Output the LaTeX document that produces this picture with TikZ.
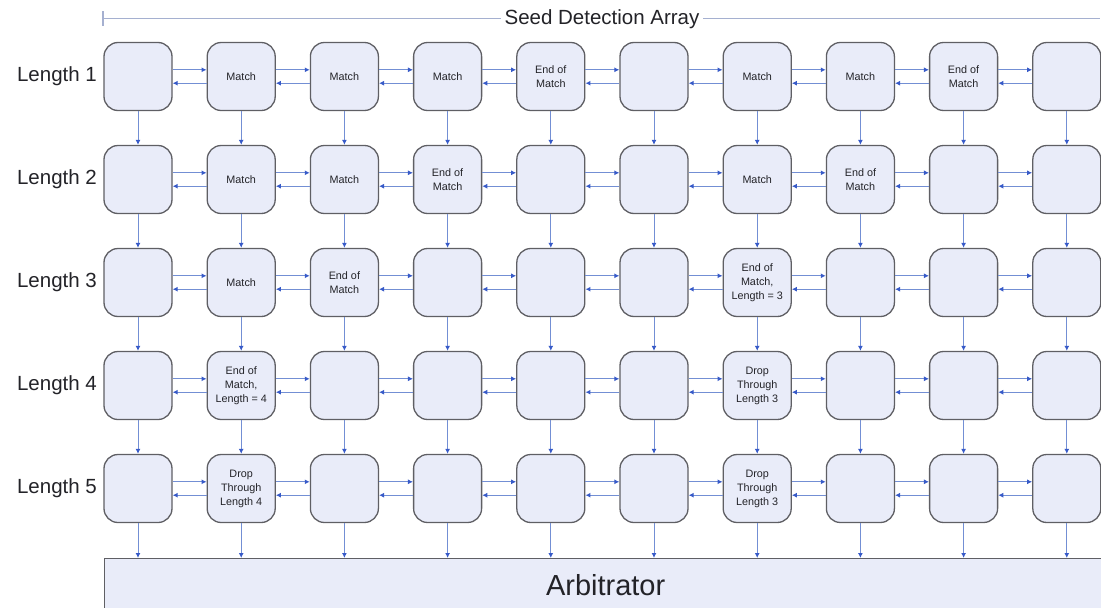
\documentclass[tikz,border=0pt]{standalone}
\usepackage{fontspec}
\setmainfont{Liberation Sans}
\usepackage{xcolor}
\usepackage{tikz}
\usetikzlibrary{arrows.meta}
\definecolor{figline}{RGB}{95,95,100}
\definecolor{figfill}{RGB}{233,236,249}
\definecolor{figmark}{RGB}{55,90,200}
\definecolor{figwire}{RGB}{115,143,212}
\definecolor{figtext}{RGB}{35,35,40}
\definecolor{figrule}{RGB}{165,176,208}
\tikzset{
  cell/.style ={draw=figline, fill=figfill, line width=1.3pt, rounded corners=14pt,
                minimum width=68pt, minimum height=68pt, inner sep=1pt, align=center,
                text=figtext, font=\fontsize{10.8}{14}\selectfont},
  arb/.style  ={draw=figline, fill=figfill, line width=1.3pt, anchor=north west,
                minimum width=1002pt, minimum height=52pt, text=figtext,
                font=\fontsize{29}{34}\selectfont},
  lab/.style  ={font=\fontsize{20.5}{24}\selectfont, text=figtext, inner sep=1pt},
  ptr/.style  ={draw=figwire, line width=1pt, -{Latex[length=5pt,width=5pt,color=figmark]}},
}
\begin{document}
\begin{tikzpicture}[x=1pt,y=-1pt]
  \useasboundingbox (0,0) rectangle (1101,608);
  % title rule
  \draw[draw=figrule,line width=1.2pt] (103,18.5) -- (1100,18.5);
  \draw[draw=figrule,line width=1.2pt] (103,11) -- (103,26);
  \node[lab,fill=white,inner sep=4pt] (title) at (602,19) {Seed Detection Array};
  % row labels
  \node[lab] (len1) at (57,76.5) {Length 1};
  \node[lab] (len2) at (57,179.5) {Length 2};
  \node[lab] (len3) at (57,282.5) {Length 3};
  \node[lab] (len4) at (57,385.5) {Length 4};
  \node[lab] (len5) at (57,488.5) {Length 5};
  % length 1
  \node[cell] (r1c1) at (138,76.5) {};
  \node[cell] (r1c2) at (241.2,76.5) {Match};
  \node[cell] (r1c3) at (344.4,76.5) {Match};
  \node[cell] (r1c4) at (447.6,76.5) {Match};
  \node[cell] (r1c5) at (550.8,76.5) {End of\\Match};
  \node[cell] (r1c6) at (654,76.5) {};
  \node[cell] (r1c7) at (757.2,76.5) {Match};
  \node[cell] (r1c8) at (860.4,76.5) {Match};
  \node[cell] (r1c9) at (963.6,76.5) {End of\\Match};
  \node[cell] (r1c10) at (1066.8,76.5) {};
  % length 2
  \node[cell] (r2c1) at (138,179.5) {};
  \node[cell] (r2c2) at (241.2,179.5) {Match};
  \node[cell] (r2c3) at (344.4,179.5) {Match};
  \node[cell] (r2c4) at (447.6,179.5) {End of\\Match};
  \node[cell] (r2c5) at (550.8,179.5) {};
  \node[cell] (r2c6) at (654,179.5) {};
  \node[cell] (r2c7) at (757.2,179.5) {Match};
  \node[cell] (r2c8) at (860.4,179.5) {End of\\Match};
  \node[cell] (r2c9) at (963.6,179.5) {};
  \node[cell] (r2c10) at (1066.8,179.5) {};
  % length 3
  \node[cell] (r3c1) at (138,282.5) {};
  \node[cell] (r3c2) at (241.2,282.5) {Match};
  \node[cell] (r3c3) at (344.4,282.5) {End of\\Match};
  \node[cell] (r3c4) at (447.6,282.5) {};
  \node[cell] (r3c5) at (550.8,282.5) {};
  \node[cell] (r3c6) at (654,282.5) {};
  \node[cell] (r3c7) at (757.2,282.5) {End of\\Match,\\Length = 3};
  \node[cell] (r3c8) at (860.4,282.5) {};
  \node[cell] (r3c9) at (963.6,282.5) {};
  \node[cell] (r3c10) at (1066.8,282.5) {};
  % length 4
  \node[cell] (r4c1) at (138,385.5) {};
  \node[cell] (r4c2) at (241.2,385.5) {End of\\Match,\\Length = 4};
  \node[cell] (r4c3) at (344.4,385.5) {};
  \node[cell] (r4c4) at (447.6,385.5) {};
  \node[cell] (r4c5) at (550.8,385.5) {};
  \node[cell] (r4c6) at (654,385.5) {};
  \node[cell] (r4c7) at (757.2,385.5) {Drop\\Through\\Length 3};
  \node[cell] (r4c8) at (860.4,385.5) {};
  \node[cell] (r4c9) at (963.6,385.5) {};
  \node[cell] (r4c10) at (1066.8,385.5) {};
  % length 5
  \node[cell] (r5c1) at (138,488.5) {};
  \node[cell] (r5c2) at (241.2,488.5) {Drop\\Through\\Length 4};
  \node[cell] (r5c3) at (344.4,488.5) {};
  \node[cell] (r5c4) at (447.6,488.5) {};
  \node[cell] (r5c5) at (550.8,488.5) {};
  \node[cell] (r5c6) at (654,488.5) {};
  \node[cell] (r5c7) at (757.2,488.5) {Drop\\Through\\Length 3};
  \node[cell] (r5c8) at (860.4,488.5) {};
  \node[cell] (r5c9) at (963.6,488.5) {};
  \node[cell] (r5c10) at (1066.8,488.5) {};
  % arbitrator
  \node[arb] (arb) at (104,558) {Arbitrator};
  % links along a row
  \foreach \row in {1,...,5}
    \foreach \col [count=\nx from 2] in {1,...,9} {
      \draw[ptr] ([yshift=6.7pt]r\row c\col.east) -- ([yshift=6.7pt]r\row c\nx.west);
      \draw[ptr] ([yshift=-6.7pt]r\row c\nx.west) -- ([yshift=-6.7pt]r\row c\col.east);
    }
  % links down a column
  \foreach \row [count=\ny from 2] in {1,...,4}
    \foreach \col in {1,...,10}
      \draw[ptr] (r\row c\col.south) -- (r\ny c\col.north);
  \foreach \col in {1,...,10}
    \draw[ptr] (r5c\col.south) -- (r5c\col.south |- arb.north);
\end{tikzpicture}
\end{document}
